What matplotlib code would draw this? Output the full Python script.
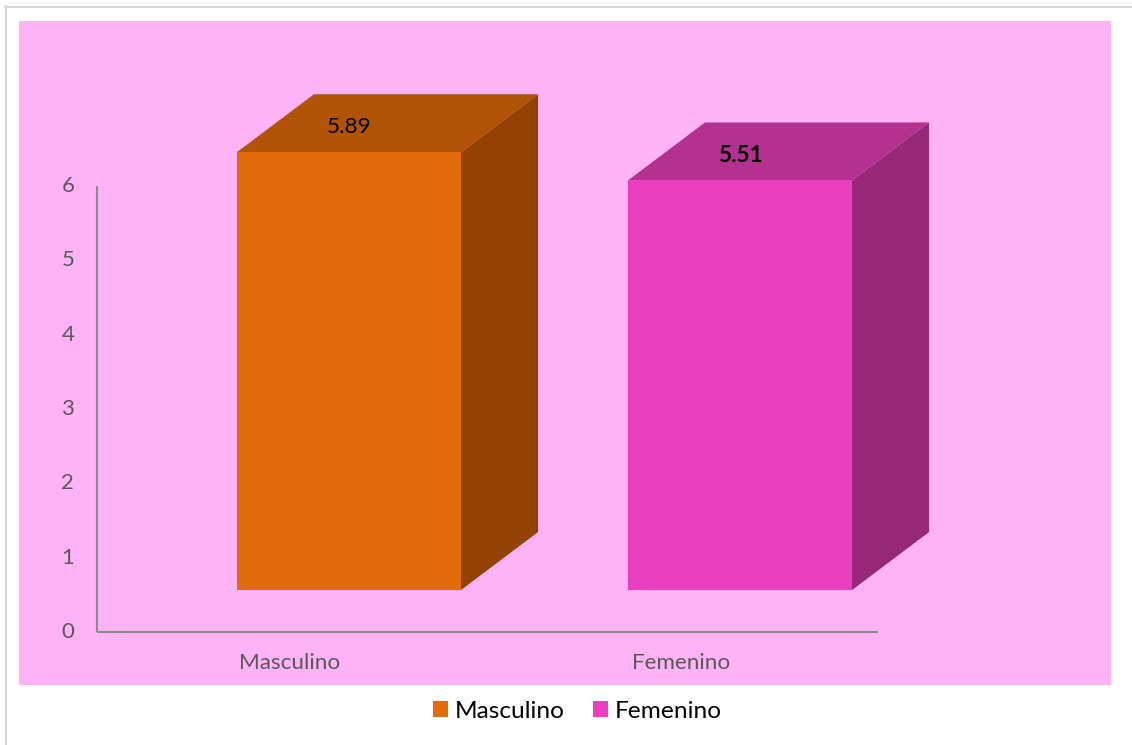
import matplotlib.pyplot as plt
from matplotlib.lines import Line2D
from matplotlib.patches import Patch, Polygon, Rectangle

plt.rcParams["font.family"] = ["Lato", "DejaVu Sans"]

categories = ["Masculino", "Femenino"]
values = [5.89, 5.51]
label_weights = ["normal", "bold"]
yticks = [0, 1, 2, 3, 4, 5, 6]

front_colors = ["#E36C0A", "#EA40BF"]
top_colors = ["#B05304", "#B3318F"]
side_colors = ["#934204", "#972877"]

BG = "#FDB3F5"
AXIS_GRAY = "#8C8C8C"
TEXT_GRAY = "#595959"

# fake 3d geometry, in data units
BAR_W = 0.573
DEPTH_X = 0.197
DEPTH_Y = 0.78
BASE = 0.565

W, H = 1132, 745
fig = plt.figure(figsize=(W / 100, H / 100), dpi=100)
fig.patch.set_facecolor("white")

# outer frame lines and the pink chart area
fig.add_artist(Line2D([5.5 / W, 5.5 / W], [0, 1 - 6 / H], color="#D9D9D9", lw=1.5))
fig.add_artist(Line2D([5 / W, 1], [1 - 6.5 / H, 1 - 6.5 / H], color="#D9D9D9", lw=1.5))
fig.add_artist(Rectangle((19 / W, 1 - 685 / H), (1111 - 19) / W, (685 - 21) / H,
                         transform=fig.transFigure, facecolor=BG, edgecolor="none", zorder=0))

ax = fig.add_axes([0, 0, 1, 1])
ax.set_facecolor("none")
ax.axis("off")
# 1 category = 391 px, 1 value unit = 74.33 px
ax.set_xlim(-349 / 391, (W - 349) / 391)
ax.set_ylim(-(H - 632) / 74.33, 632 / 74.33)

x_axis_left = -0.6445
x_axis_right = 1.353
ax.plot([x_axis_left, x_axis_left], [0, max(yticks)], color=AXIS_GRAY, lw=1.5, solid_capstyle="butt")
ax.plot([x_axis_left, x_axis_right], [0, 0], color=AXIS_GRAY, lw=1.5, solid_capstyle="butt")

for t in yticks:
    ax.text(-0.719, t, str(t), ha="center", va="center", fontsize=16, color=TEXT_GRAY)

for i, (cat, v) in enumerate(zip(categories, values)):
    left = i - BAR_W / 2
    right = i + BAR_W / 2
    top = BASE + v
    side = Polygon([(right, BASE), (right + DEPTH_X, BASE + DEPTH_Y),
                    (right + DEPTH_X, top + DEPTH_Y), (right, top)],
                   closed=True, facecolor=side_colors[i], edgecolor="none")
    lid = Polygon([(left, top), (right, top), (right + DEPTH_X, top + DEPTH_Y),
                   (left + DEPTH_X, top + DEPTH_Y)],
                  closed=True, facecolor=top_colors[i], edgecolor="none")
    front = Rectangle((left, BASE), BAR_W, v, facecolor=front_colors[i], edgecolor="none")
    for p in (side, lid, front):
        ax.add_patch(p)
    ax.text(i, top + 0.34, f"{v:.2f}", ha="center", va="center", fontsize=16.2,
            fontweight=label_weights[i], color="black")
    ax.text(i - 0.151, -0.417, cat, ha="center", va="center", fontsize=16.2, color=TEXT_GRAY)

handles = [Patch(facecolor=c, edgecolor="none", label=cat) for c, cat in zip(front_colors, categories)]
fig.legend(handles=handles, loc="center", bbox_to_anchor=(577.5 / W, 34 / H), ncol=2,
           frameon=False, fontsize=17.6, handlelength=0.61, handleheight=0.61,
           handletextpad=0.29, columnspacing=1.15)

fig.savefig("out.png", dpi=100, facecolor="white")
